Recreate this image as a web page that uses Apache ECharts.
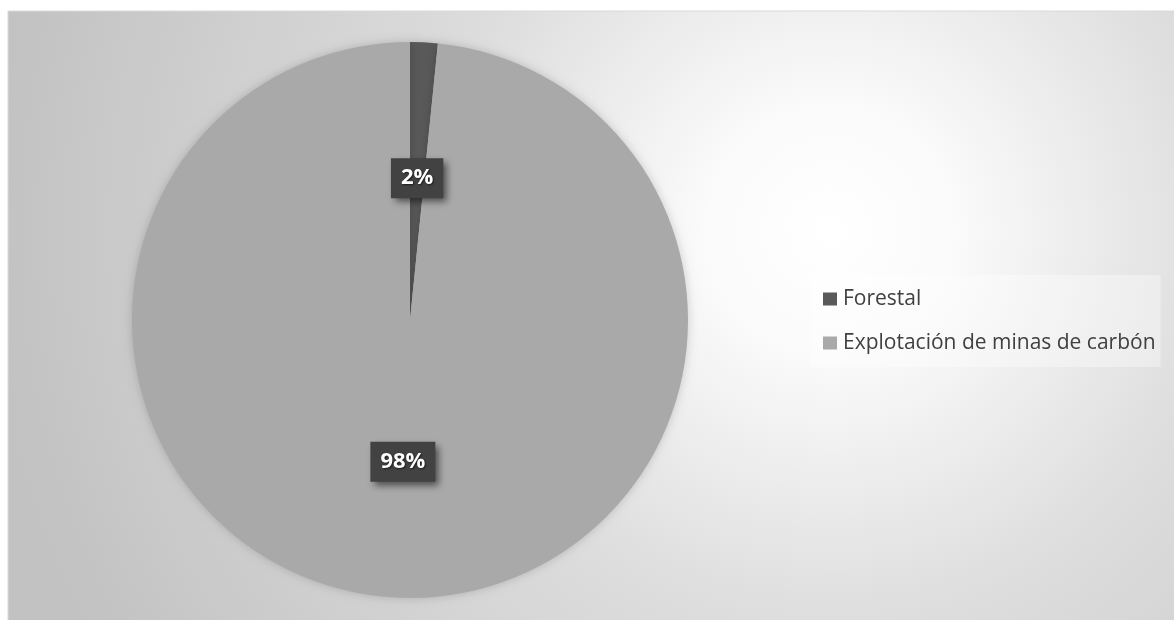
<!DOCTYPE html>
<html>
<head>
<meta charset="utf-8">
<script src="https://cdn.jsdelivr.net/npm/echarts@6/dist/echarts.min.js"></script>
<style>
  html, body { margin: 0; padding: 0; background: #ffffff; }
  #chart { width: 1174px; height: 620px; }
</style>
</head>
<body>
<div id="chart"></div>
<script>
// Sector shares (percent of total)
const categories = ['Forestal', 'Explotación de minas de carbón'];
const shares = [1.6, 98.4];
const sliceColors = ['#595959', '#a9a9a9'];

const chart = echarts.init(document.getElementById('chart'), null, { renderer: 'canvas' });

chart.setOption({
  animation: false,
  graphic: [{
    type: 'rect',
    z: -10,
    shape: { x: 8, y: 11, width: 1200, height: 640 },
    style: {
      fill: {
        type: 'radial', global: true,
        x: 830, y: 230, r: 840,
        colorStops: [
          { offset: 0, color: '#ffffff' },
          { offset: 0.14, color: '#fbfbfb' },
          { offset: 0.47, color: '#dddddd' },
          { offset: 1, color: '#c2c2c2' }
        ]
      },
      stroke: '#d9d9d9',
      lineWidth: 1
    }
  }],
  legend: {
    orient: 'vertical',
    left: 811,
    top: 275,
    padding: [12, 5, 12, 12],
    backgroundColor: 'rgba(255,255,255,0.35)',
    icon: 'rect',
    itemWidth: 14,
    itemHeight: 13,
    itemGap: 20,
    textStyle: {
      fontFamily: 'Open Sans',
      fontSize: 21,
      color: '#404040',
      lineHeight: 24,
      padding: [0, 0, 0, 1]
    },
    data: categories
  },
  series: [{
    type: 'pie',
    center: [410, 320],
    radius: 278,
    startAngle: 90,
    clockwise: true,
    percentPrecision: 0,
    avoidLabelOverlap: false,
    color: sliceColors,
    itemStyle: {
      shadowBlur: 10,
      shadowColor: 'rgba(0,0,0,0.18)'
    },
    emphasis: { disabled: true },
    label: {
      show: true,
      position: 'inside',
      formatter: '{d}%',
      fontFamily: 'Open Sans',
      fontWeight: 'bold',
      fontSize: 22,
      lineHeight: 24,
      color: '#ffffff',
      textShadowColor: 'rgba(0,0,0,0.6)',
      textShadowBlur: 2,
      textShadowOffsetX: 1,
      textShadowOffsetY: 1,
      backgroundColor: '#424242',
      padding: [8, 10],
      shadowColor: 'rgba(0,0,0,0.55)',
      shadowBlur: 7,
      shadowOffsetX: 4,
      shadowOffsetY: 4
    },
    labelLine: { show: false },
    data: categories.map((name, i) => ({ name: name, value: shares[i] }))
  }]
});
</script>
</body>
</html>
